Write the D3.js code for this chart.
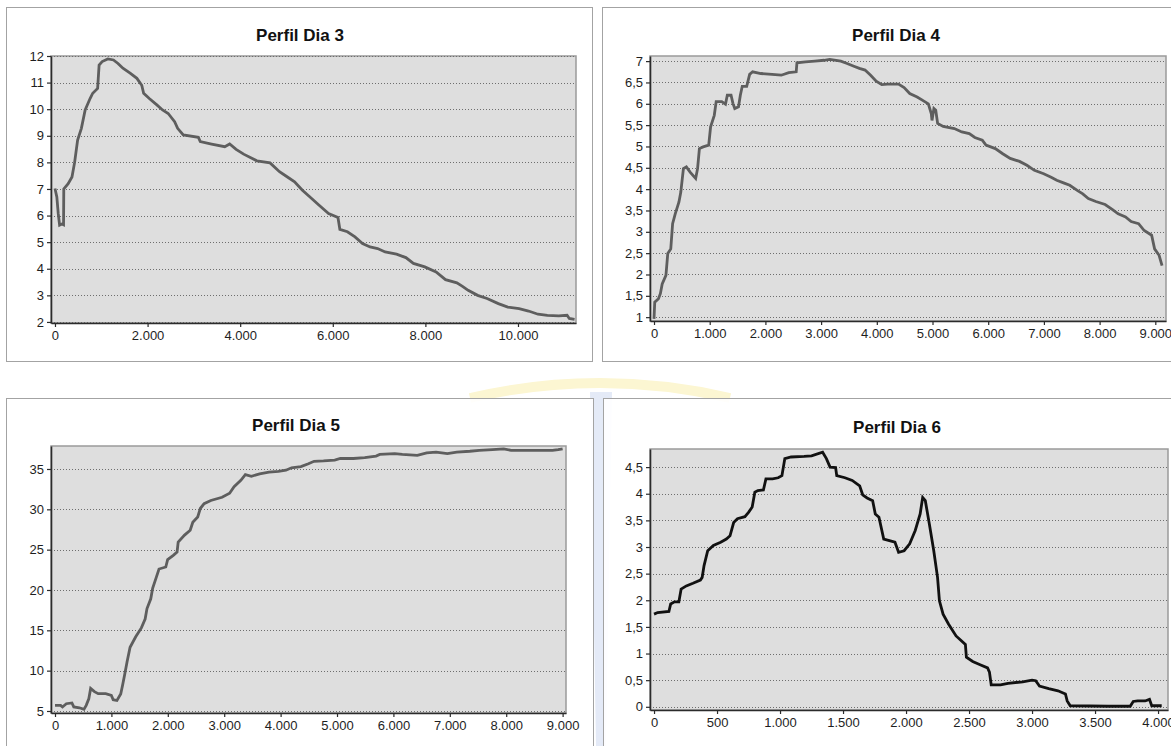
<!DOCTYPE html>
<html>
<head>
<meta charset="utf-8">
<script src="https://cdn.jsdelivr.net/npm/d3@7"></script>
<style>
  body { margin: 0; background: #fff; }
  svg { display: block; }
</style>
</head>
<body>
<svg id="chart"></svg>
<script>
// ---- data (distance vs. value) ----
const dia3X = [0, 40, 70, 100, 150, 185, 190, 285, 367, 424, 489, 570, 652, 758, 815, 921, 953, 1019, 1141, 1263, 1361, 1467, 1630, 1769, 1874, 1915, 2037, 2200, 2323, 2445, 2584, 2649, 2771, 3097, 3138, 3382, 3667, 3773, 3912, 4075, 4360, 4645, 4849, 5012, 5175, 5338, 5501, 5705, 5909, 6112, 6153, 6316, 6479, 6642, 6805, 6968, 7131, 7376, 7579, 7742, 7987, 8231, 8435, 8680, 8802, 8924, 9128, 9332, 9576, 9780, 10024, 10228, 10432, 10636, 10880, 11060, 11108, 11222];
const dia3Y = [7.02, 6.7, 6.08, 5.64, 5.68, 5.65, 7.0, 7.2, 7.45, 8.0, 8.84, 9.28, 9.97, 10.4, 10.6, 10.78, 11.66, 11.79, 11.89, 11.85, 11.72, 11.54, 11.35, 11.16, 10.9, 10.6, 10.4, 10.16, 9.97, 9.84, 9.53, 9.28, 9.03, 8.94, 8.78, 8.69, 8.59, 8.69, 8.49, 8.31, 8.06, 7.98, 7.65, 7.46, 7.27, 6.96, 6.71, 6.39, 6.08, 5.93, 5.48, 5.39, 5.2, 4.95, 4.82, 4.76, 4.63, 4.55, 4.42, 4.2, 4.07, 3.88, 3.59, 3.47, 3.34, 3.19, 3.0, 2.88, 2.69, 2.56, 2.5, 2.41, 2.29, 2.25, 2.23, 2.25, 2.13, 2.1];

const dia4X = [0, 13, 80, 114, 147, 214, 247, 301, 334, 381, 448, 481, 528, 581, 648, 748, 782, 815, 882, 982, 1016, 1082, 1116, 1216, 1283, 1316, 1383, 1417, 1450, 1517, 1550, 1584, 1664, 1717, 1771, 1918, 2118, 2285, 2419, 2553, 2566, 2720, 2887, 3054, 3154, 3354, 3455, 3588, 3688, 3789, 3889, 3989, 4089, 4190, 4390, 4490, 4591, 4724, 4824, 4925, 4978, 4991, 5025, 5058, 5092, 5192, 5392, 5526, 5660, 5760, 5894, 5960, 6127, 6261, 6395, 6562, 6695, 6829, 6996, 7130, 7230, 7364, 7464, 7598, 7698, 7798, 7932, 8099, 8232, 8333, 8466, 8566, 8700, 8800, 8934, 8987, 9068, 9121];
const dia4Y = [0.96, 1.35, 1.43, 1.55, 1.78, 1.98, 2.49, 2.6, 3.19, 3.42, 3.7, 3.93, 4.48, 4.52, 4.4, 4.25, 4.48, 4.95, 4.99, 5.03, 5.46, 5.73, 6.05, 6.05, 5.99, 6.2, 6.2, 6.01, 5.89, 5.93, 6.2, 6.41, 6.41, 6.69, 6.75, 6.71, 6.69, 6.67, 6.73, 6.75, 6.96, 6.98, 7.0, 7.02, 7.04, 7.0, 6.95, 6.88, 6.83, 6.79, 6.67, 6.53, 6.45, 6.46, 6.46, 6.38, 6.24, 6.16, 6.08, 6.0, 5.77, 5.61, 5.89, 5.85, 5.54, 5.47, 5.42, 5.34, 5.3, 5.21, 5.15, 5.03, 4.95, 4.83, 4.72, 4.65, 4.56, 4.44, 4.36, 4.28, 4.21, 4.14, 4.09, 3.97, 3.89, 3.78, 3.71, 3.64, 3.52, 3.42, 3.35, 3.24, 3.19, 3.03, 2.92, 2.6, 2.45, 2.21];

const dia5X = [0, 100, 133, 200, 300, 333, 433, 513, 553, 599, 632, 699, 766, 899, 999, 1032, 1098, 1165, 1198, 1232, 1278, 1331, 1431, 1531, 1598, 1631, 1698, 1731, 1797, 1844, 1964, 1997, 2097, 2164, 2184, 2297, 2397, 2443, 2530, 2576, 2643, 2763, 2962, 3096, 3175, 3295, 3375, 3482, 3628, 3794, 3961, 4094, 4194, 4360, 4493, 4593, 4760, 4959, 5059, 5292, 5492, 5692, 5758, 6024, 6158, 6424, 6590, 6757, 6957, 7123, 7356, 7522, 7755, 7955, 8088, 8488, 8821, 8921, 9000];
const dia5Y = [5.7, 5.7, 5.5, 5.9, 6.0, 5.5, 5.4, 5.2, 5.7, 6.5, 7.8, 7.4, 7.15, 7.15, 6.94, 6.4, 6.3, 7.1, 8.2, 9.4, 11.1, 12.9, 14.2, 15.3, 16.4, 17.7, 18.9, 20.2, 21.6, 22.6, 22.85, 23.76, 24.3, 24.7, 25.95, 26.8, 27.4, 28.4, 29.05, 30.1, 30.7, 31.1, 31.5, 32.0, 32.8, 33.6, 34.3, 34.1, 34.4, 34.6, 34.7, 34.85, 35.15, 35.3, 35.65, 35.95, 36.0, 36.1, 36.3, 36.3, 36.4, 36.6, 36.8, 36.9, 36.8, 36.7, 37.0, 37.1, 36.9, 37.1, 37.2, 37.3, 37.4, 37.5, 37.3, 37.3, 37.3, 37.4, 37.5];

const dia6X = [0, 29, 118, 132, 162, 197, 215, 256, 309, 368, 382, 397, 426, 471, 529, 574, 603, 632, 662, 721, 750, 779, 800, 824, 868, 888, 941, 985, 1015, 1038, 1088, 1191, 1250, 1338, 1368, 1397, 1441, 1450, 1515, 1573, 1632, 1656, 1691, 1735, 1756, 1785, 1823, 1868, 1912, 1941, 1985, 2029, 2073, 2112, 2132, 2153, 2185, 2220, 2250, 2265, 2294, 2338, 2397, 2471, 2479, 2529, 2588, 2647, 2662, 2676, 2750, 2809, 2926, 3000, 3029, 3059, 3132, 3206, 3265, 3279, 3303, 3603, 3779, 3803, 3838, 3897, 3932, 3950, 4029];
const dia6Y = [1.74, 1.77, 1.79, 1.93, 1.97, 1.97, 2.21, 2.27, 2.32, 2.38, 2.43, 2.65, 2.93, 3.03, 3.09, 3.15, 3.21, 3.46, 3.53, 3.57, 3.65, 3.75, 4.03, 4.06, 4.07, 4.28, 4.28, 4.3, 4.34, 4.66, 4.69, 4.7, 4.71, 4.78, 4.66, 4.5, 4.49, 4.34, 4.3, 4.25, 4.15, 3.98, 3.92, 3.87, 3.62, 3.56, 3.15, 3.12, 3.09, 2.9, 2.93, 3.06, 3.31, 3.62, 3.93, 3.87, 3.43, 2.93, 2.43, 1.99, 1.74, 1.55, 1.33, 1.17, 0.93, 0.85, 0.79, 0.73, 0.65, 0.41, 0.41, 0.44, 0.47, 0.5, 0.49, 0.39, 0.34, 0.3, 0.24, 0.11, 0.02, 0.01, 0.01, 0.1, 0.11, 0.11, 0.14, 0.02, 0.02];

// ---- tick values ----
const dia3XTicks = [0, 2000, 4000, 6000, 8000, 10000];
const dia3YTicks = [2, 3, 4, 5, 6, 7, 8, 9, 10, 11, 12];
const dia4XTicks = [0, 1000, 2000, 3000, 4000, 5000, 6000, 7000, 8000, 9000];
const dia4YTicks = [1, 1.5, 2, 2.5, 3, 3.5, 4, 4.5, 5, 5.5, 6, 6.5, 7];
const dia5XTicks = [0, 1000, 2000, 3000, 4000, 5000, 6000, 7000, 8000, 9000];
const dia5YTicks = [5, 10, 15, 20, 25, 30, 35];
const dia6XTicks = [0, 500, 1000, 1500, 2000, 2500, 3000, 3500, 4000];
const dia6YTicks = [0, 0.5, 1, 1.5, 2, 2.5, 3, 3.5, 4, 4.5];

const titles = ['Perfil Dia 3', 'Perfil Dia 4', 'Perfil Dia 5', 'Perfil Dia 6'];

// decimal comma, dot for thousands
const locale = d3.formatLocale({decimal: ',', thousands: '.', grouping: [3], currency: ['', '']});
const fmt = locale.format(',.1~f');

const svg = d3.select('#chart')
    .attr('width', 1171)
    .attr('height', 746);

// faint logo watermark behind the panels
svg.append('path')
    .attr('d', 'M470,398 Q600,368 730,398')
    .attr('fill', 'none')
    .attr('stroke', '#fcf6d2')
    .attr('stroke-width', 10);
svg.append('path')
    .attr('d', 'M590,392 L612,392 L606,746 L596,746 Z')
    .attr('fill', '#e4eaf7');

class ProfileChart {

    constructor(_config, _x, _y) {
        this.config = {
            border: _config.border,
            plot: _config.plot,
            xDomain: _config.xDomain,
            yDomain: _config.yDomain,
            xTicks: _config.xTicks,
            yTicks: _config.yTicks,
            title: _config.title,
            titleX: _config.titleX,
            titleY: _config.titleY,
            lineColor: _config.lineColor || '#5e5e5e'
        };
        this.data = _x.map((d, i) => ({x: d, y: _y[i]}));
        this.initVis();
    }

    initVis() {
        let vis = this;
        let c = vis.config;

        vis.xScale = d3.scaleLinear().domain(c.xDomain).range([c.plot.left, c.plot.right]);
        vis.yScale = d3.scaleLinear().domain(c.yDomain).range([c.plot.bottom, c.plot.top]);

        vis.g = svg.append('g');

        // panel frame
        vis.g.append('rect')
            .attr('x', c.border.x + 0.5)
            .attr('y', c.border.y + 0.5)
            .attr('width', c.border.w)
            .attr('height', c.border.h)
            .attr('fill', '#fff')
            .attr('fill-opacity', 0.9)
            .attr('stroke', '#a3a3a3');

        vis.g.append('text')
            .attr('x', c.titleX)
            .attr('y', c.titleY)
            .attr('text-anchor', 'middle')
            .attr('font-family', 'Liberation Sans, Arial, sans-serif')
            .attr('font-weight', 'bold')
            .attr('font-size', 17)
            .attr('fill', '#111')
            .text(c.title);

        // plot area
        vis.g.append('rect')
            .attr('x', c.plot.left)
            .attr('y', c.plot.top)
            .attr('width', c.plot.right - c.plot.left)
            .attr('height', c.plot.bottom - c.plot.top)
            .attr('fill', '#dedede')
            .attr('stroke', '#9a9a9a')
            .attr('stroke-width', 1.5);

        vis.xAxis = d3.axisBottom(vis.xScale).tickValues(c.xTicks).tickFormat(fmt)
            .tickSize(4).tickSizeOuter(0).tickPadding(4);
        vis.yAxis = d3.axisLeft(vis.yScale).tickValues(c.yTicks).tickFormat(fmt)
            .tickSize(4).tickSizeOuter(0).tickPadding(3);

        vis.renderVis();
    }

    renderVis() {
        let vis = this;
        let c = vis.config;

        // dotted gridlines
        vis.g.append('g')
            .selectAll('line')
            .data(c.yTicks)
            .join('line')
            .attr('x1', c.plot.left)
            .attr('x2', c.plot.right)
            .attr('y1', d => Math.round(vis.yScale(d)) + 0.5)
            .attr('y2', d => Math.round(vis.yScale(d)) + 0.5)
            .attr('stroke', '#6e6e6e')
            .attr('stroke-dasharray', '1,2');

        let line = d3.line()
            .x(d => vis.xScale(d.x))
            .y(d => vis.yScale(d.y));

        vis.g.append('path')
            .datum(vis.data)
            .attr('d', line)
            .attr('fill', 'none')
            .attr('stroke', c.lineColor)
            .attr('stroke-width', 2.8)
            .attr('stroke-linejoin', 'miter');

        let xAxisG = vis.g.append('g')
            .attr('transform', `translate(0,${c.plot.bottom})`)
            .call(vis.xAxis);
        let yAxisG = vis.g.append('g')
            .attr('transform', `translate(${c.plot.left},0)`)
            .call(vis.yAxis);

        [xAxisG, yAxisG].forEach(a => {
            a.attr('font-family', 'Liberation Sans, Arial, sans-serif').attr('font-size', 13);
            a.select('.domain').attr('stroke', '#2b2b2b').attr('stroke-width', 1.6);
            a.selectAll('.tick line').attr('stroke', '#2b2b2b').attr('stroke-width', 1.2);
            a.selectAll('.tick text').attr('fill', '#1e1e1e');
        });
    }
}

new ProfileChart({
    border: {x: 6, y: 7, w: 586, h: 354},
    plot: {left: 51, top: 56, right: 576, bottom: 323},
    xDomain: [-86, 11253], yDomain: [1.96, 12],
    xTicks: dia3XTicks, yTicks: dia3YTicks,
    title: titles[0], titleX: 300, titleY: 41
}, dia3X, dia3Y);

new ProfileChart({
    border: {x: 602, y: 7, w: 600, h: 354},
    plot: {left: 650, top: 56, right: 1166, bottom: 321},
    xDomain: [-72, 9192], yDomain: [0.91, 7.12],
    xTicks: dia4XTicks, yTicks: dia4YTicks,
    title: titles[1], titleX: 896, titleY: 41
}, dia4X, dia4Y);

new ProfileChart({
    border: {x: 6, y: 398, w: 587, h: 400},
    plot: {left: 51, top: 446, right: 566, bottom: 713},
    xDomain: [-71, 9060], yDomain: [4.75, 37.85],
    xTicks: dia5XTicks, yTicks: dia5YTicks,
    title: titles[2], titleX: 296, titleY: 431
}, dia5X, dia5Y);

new ProfileChart({
    border: {x: 603, y: 398, w: 600, h: 400},
    plot: {left: 650, top: 449, right: 1168, bottom: 710},
    xDomain: [-32, 4079], yDomain: [-0.06, 4.84],
    xTicks: dia6XTicks, yTicks: dia6YTicks,
    title: titles[3], titleX: 897, titleY: 433,
    lineColor: '#111'
}, dia6X, dia6Y);
</script>
</body>
</html>
